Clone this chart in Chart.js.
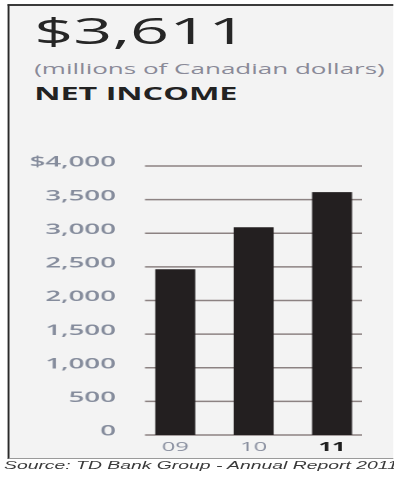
<!DOCTYPE html>
<html>
<head>
<meta charset="utf-8">
<script src="https://cdn.jsdelivr.net/npm/chart.js@4/dist/chart.umd.min.js"></script>
<style>
  html, body { margin: 0; padding: 0; background: #fff; overflow: hidden; }
  body { width: 394px; height: 478px; position: relative; }
  /* the whole card is drawn narrow and stretched sideways */
  #stage { position: absolute; left: 0; top: 0; width: 207.37px; height: 478px;
           transform: scaleX(1.9); transform-origin: 0 0; }
  #panel { position: absolute; left: 4.3px; top: 4px; right: 0; height: 452px;
           background: #f3f3f3; border-left: 1.1px solid #2a2a2a; border-top: 2px solid #3a3a3a;
           border-bottom: 1px solid #9a9a9a; }
  .t { position: absolute; left: 18px; white-space: nowrap; font-family: "Open Sans", sans-serif; }
  #big { top: 13px; font-size: 36px; line-height: 36px; color: #262626; }
  #unit { top: 61.8px; font-size: 13.7px; line-height: 13.7px; color: #8a8a98; }
  #name { top: 85px; font-size: 17px; line-height: 17px; font-weight: 700; color: #222; }
  #src { position: absolute; left: 2.1px; top: 459px; font: italic 10.2px/14px "Liberation Sans", Arial, sans-serif;
         color: #3a3a3a; white-space: nowrap; }
  #chart { position: absolute; left: 0; top: 146px; }
</style>
</head>
<body>
<div id="stage">
  <div id="panel"></div>
  <div class="t" id="big">$3,611</div>
  <div class="t" id="unit">(millions of Canadian dollars)</div>
  <div class="t" id="name">NET INCOME</div>
  <canvas id="chart" width="207" height="314"></canvas>
  <div id="src">Source: TD Bank Group - Annual Report 2011</div>
</div>
<script>
const years = ["09", "10", "11"];
const netIncome = [2465, 3090, 3611];
const yTicks = [0, 500, 1000, 1500, 2000, 2500, 3000, 3500, 4000];
const yLabels = ["0", "500", "1,000", "1,500", "2,000", "2,500", "3,000", "3,500", "$4,000"];

// horizontal rules at each y tick, a little shorter than the plot area, behind the bars
const rules = {
  id: "rules",
  beforeDatasetsDraw(chart) {
    const { ctx, chartArea: a, scales: { y } } = chart;
    ctx.save();
    ctx.strokeStyle = "#8c8282";
    ctx.lineWidth = 1.6;
    for (const v of yTicks) {
      const py = y.getPixelForValue(v);
      ctx.beginPath();
      ctx.moveTo(a.left + 4.7, py);
      ctx.lineTo(a.right - 4.9, py);
      ctx.stroke();
    }
    ctx.restore();
  }
};

new Chart(document.getElementById("chart"), {
  type: "bar",
  data: {
    labels: years,
    datasets: [{ data: netIncome, backgroundColor: "#231f20", barPercentage: 0.51, categoryPercentage: 1 }]
  },
  options: {
    responsive: false,
    devicePixelRatio: 2,
    animation: false,
    layout: { padding: { left: 0, right: 11.6, top: 20, bottom: 0 } },
    plugins: { legend: { display: false }, tooltip: { enabled: false } },
    scales: {
      x: {
        grid: { display: false, drawTicks: false },
        border: { display: false },
        ticks: {
          padding: 5,
          color: c => c.index === 2 ? "#1e1e1e" : "#8a90a0",
          font: c => ({ family: "Open Sans", size: 12.5, weight: c.index === 2 ? "bold" : "normal" })
        }
      },
      y: {
        min: 0, max: 4000,
        afterFit: s => { s.width = 71.6; },
        afterBuildTicks: s => { s.ticks = yTicks.map(v => ({ value: v })); },
        grid: { display: false, drawTicks: false },
        border: { display: false },
        ticks: {
          padding: 10.6,
          labelOffset: -3.5,
          color: "#858c9c",
          font: { family: "Open Sans", size: 14.5, weight: 600 },
          callback: (v, i) => yLabels[i]
        }
      }
    }
  },
  plugins: [rules]
});
</script>
</body>
</html>
